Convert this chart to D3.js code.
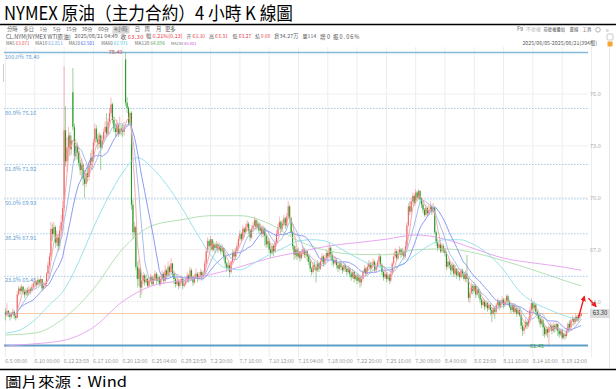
<!DOCTYPE html>
<html><head><meta charset="utf-8">
<script src="https://cdn.jsdelivr.net/npm/d3@7"></script>
<style>body{margin:0;background:#fff}svg{display:block}text{font-family:"Noto Sans CJK TC","Noto Sans",sans-serif}</style>
</head><body><svg id="c" width="616" height="389"></svg>
<script>
// ---------- DATA ----------
const closes = [
63.20,63.45,63.30,63.10,63.25,63.40,63.15,63.05,64.40,64.75,
64.60,64.85,64.55,64.40,64.65,64.50,64.70,64.60,64.85,65.05,
65.10,64.95,65.25,65.05,65.30,64.75,64.90,65.00,65.60,66.10,
66.60,68.20,67.90,68.30,67.40,67.70,67.20,68.10,68.60,69.40,
73.90,72.10,72.90,73.60,72.80,73.30,74.10,72.40,73.00,72.60,
72.00,71.60,71.90,71.10,70.80,71.40,71.20,71.90,72.30,72.10,
73.20,74.00,73.40,73.10,73.60,72.90,73.30,73.80,74.10,73.70,
74.40,74.90,75.40,74.50,74.00,73.80,74.20,73.70,74.00,73.90,
73.80,74.10,75.50,75.20,74.30,74.90,69.60,68.00,68.30,66.00,65.30,65.90,64.80,65.20,
65.5,65.1,65.3,64.9,65.2,65.4,65.0,65.3,65.6,65.2,
65.4,65.0,65.3,65.6,65.2,65.8,65.5,66.0,65.7,66.2,
65.6,65.3,65.0,65.2,64.9,65.1,65.3,64.9,65.0,65.2,
65.5,65.3,65.8,65.4,65.1,65.4,65.6,65.3,65.5,65.7,
65.4,65.6,66.2,66.9,67.5,67.2,67.6,67.0,67.3,67.1,
67.3,67.0,67.2,66.9,67.1,66.6,66.2,65.9,66.1,65.7,
66.3,66.8,66.6,66.9,67.2,67.6,67.9,67.6,68.2,68.0,
68.3,68.5,68.1,67.7,68.2,68.4,68.7,68.3,68.5,68.1,
68.3,67.9,68.2,67.8,67.3,67.5,67.0,66.8,67.2,66.9,
67.4,67.9,68.3,68.6,68.2,68.5,68.8,68.4,68.9,69.5,
68.8,68.0,67.2,66.7,67.0,66.6,66.9,66.5,66.8,67.0,
66.7,66.9,66.6,66.3,65.9,65.7,66.1,66.0,65.8,66.2,
65.9,66.3,66.6,66.2,66.5,66.8,66.6,67.1,66.7,66.4,
66.2,66.4,66.1,65.9,66.2,66.0,65.8,66.1,65.9,65.7,
65.9,65.6,65.4,65.7,65.3,65.5,65.2,65.4,65.1,65.3,
65.7,65.9,65.6,66.0,66.2,65.9,66.1,66.3,65.8,66.0,
66.3,66.6,66.1,65.7,65.4,65.6,65.3,65.5,65.2,65.6,
66.2,66.6,66.9,66.5,66.8,67.0,66.7,66.9,66.6,67.2,
68.4,69.5,69.2,69.8,70.1,69.7,70.3,70.0,70.4,69.9,
69.6,69.3,69.0,69.4,69.1,69.3,69.5,69.2,69.4,68.0,
67.4,67.1,67.3,66.9,67.2,67.0,66.8,66.0,66.3,66.1,
65.8,66.1,65.6,65.9,65.5,65.7,65.4,65.8,65.6,65.3,
65.6,65.3,64.2,64.5,64.9,64.6,64.9,64.4,64.7,64.5,
64.1,63.8,64.0,63.7,63.9,63.6,63.8,63.5,63.3,63.6,
63.4,63.8,64.0,63.7,63.9,64.1,63.8,64.0,64.3,64.0,
63.7,63.5,63.8,63.4,63.6,63.3,63.5,63.2,62.6,62.3,
62.5,62.8,62.6,62.9,63.5,63.9,63.6,63.8,63.4,63.2,
63.0,62.7,62.9,62.5,62.1,62.4,62.2,62.5,62.6,62.3,
62.6,62.4,62.7,62.3,62.1,62.3,61.9,62.1,62.0,62.3,
62.7,62.5,62.9,63.0,62.8,63.1,62.9,63.2,63.17,63.30];
const highs = [
63.6,63.9,63.5,63.4,63.4,63.6,63.5,63.3,64.6,64.9,
64.9,65.0,64.9,64.7,64.8,64.8,64.9,64.8,65.0,65.2,
65.3,65.2,65.4,65.3,65.5,65.3,65.1,65.2,65.7,66.3,
66.8,68.6,68.5,68.6,68.4,68.1,67.9,68.4,69.0,69.8,
77.6,75.3,73.5,74.1,73.8,73.6,77.5,74.3,73.4,73.2,
72.7,72.2,72.3,72.0,71.5,71.6,71.8,72.1,72.6,72.8,
73.4,74.3,74.2,73.7,73.8,73.7,73.6,74.0,74.4,74.9,
74.6,75.2,75.8,75.5,74.7,74.3,74.5,74.3,74.7,74.2,
74.3,74.4,78.4,75.8,75.3,75.0,75.0,69.9,68.6,68.4,66.3,66.4,66.0,65.5,
65.7,65.6,65.6,65.4,65.4,65.6,65.5,65.5,65.8,65.7,
65.6,65.5,65.5,65.8,65.7,66.1,65.9,66.3,66.1,66.5,
66.2,65.7,65.4,65.4,65.3,65.3,65.5,65.4,65.2,65.4,
65.7,65.6,66.0,65.9,65.5,65.6,65.9,65.7,65.7,65.9,
65.8,65.8,66.4,67.1,67.7,67.6,67.8,67.6,67.5,67.4,
67.5,67.4,67.4,67.3,67.3,67.1,66.7,66.3,66.3,66.2,
66.4,67.0,67.0,67.1,67.4,67.8,68.1,68.0,68.4,68.3,
68.5,68.7,68.6,68.2,68.4,68.6,68.9,68.8,68.7,68.6,
68.5,68.4,68.4,68.3,67.9,67.7,67.6,67.2,67.4,67.3,
67.6,68.1,68.5,68.9,68.7,68.7,69.0,68.9,69.1,69.8,
69.6,68.9,68.1,67.3,67.2,67.1,67.1,66.9,67.0,67.2,
67.1,67.0,66.9,66.7,66.4,66.0,66.3,66.3,66.2,66.4,
66.3,66.5,66.8,66.7,66.7,67.0,66.9,67.4,67.2,66.9,
66.5,66.6,66.5,66.2,66.3,66.3,66.1,66.3,66.2,66.0,
66.1,66.0,65.7,65.9,65.8,65.6,65.6,65.6,65.5,65.5,
65.8,66.1,66.0,66.2,66.4,66.3,66.3,66.5,66.4,66.2,
66.4,66.8,66.7,66.2,65.8,65.8,65.7,65.7,65.6,65.8,
66.3,66.8,67.1,67.0,67.0,67.2,67.1,67.1,67.0,67.5,
68.6,69.7,69.8,70.0,70.3,70.2,70.5,70.4,70.5,70.4,
70.0,69.8,69.4,69.6,69.5,69.6,69.8,69.6,69.7,69.5,
68.1,67.6,67.5,67.4,67.4,67.3,67.1,66.9,66.5,66.4,
66.2,66.3,66.2,66.1,65.9,65.9,65.7,65.9,65.9,65.7,
65.8,66.7,65.4,64.8,65.1,65.0,65.1,65.0,64.9,64.8,
64.5,64.2,64.2,64.1,64.1,64.0,64.0,63.9,63.7,63.8,
63.7,63.9,64.2,64.1,64.1,64.3,64.2,64.2,64.4,64.4,
64.1,63.9,63.9,63.9,63.8,63.7,63.7,63.6,63.3,62.8,
62.7,63.0,62.9,63.1,63.7,64.2,64.0,64.0,63.9,63.5,
63.3,63.1,63.0,63.0,62.6,62.6,62.5,62.7,62.8,62.7,
62.8,62.7,62.8,62.7,62.4,62.4,62.4,62.2,62.2,62.5,
62.8,62.9,63.0,63.2,63.1,63.3,63.2,63.3,63.31,63.31];
const lows = [
62.9,63.1,63.1,62.9,63.0,63.2,63.0,62.9,63.0,64.3,
64.4,64.5,64.4,64.2,64.3,64.3,64.4,64.4,64.5,64.7,
64.8,64.8,64.9,64.9,64.9,64.6,64.7,64.8,64.9,65.5,
65.9,66.4,67.5,67.7,67.1,67.2,66.9,67.0,67.9,68.4,
69.2,71.8,71.5,72.5,72.4,72.5,73.9,72.1,72.2,72.2,
71.8,71.3,71.2,70.7,70.0,70.6,70.9,71.0,71.7,71.6,
72.1,73.0,73.2,72.8,72.9,71.6,72.8,73.2,73.5,73.5,
73.6,74.2,74.7,74.3,73.8,73.5,73.6,73.5,73.6,73.6,
73.5,73.6,75.3,74.9,74.2,74.2,69.3,67.6,67.7,65.8,64.8,64.9,64.2,64.4,
65.0,64.9,65.0,64.8,64.8,65.1,64.9,64.9,65.2,65.0,
65.1,64.9,64.9,65.2,65.0,65.1,65.3,65.4,65.5,65.6,
65.4,65.0,64.8,64.9,64.7,64.8,65.0,64.7,64.8,64.9,
65.1,65.1,65.2,65.2,64.9,65.0,65.3,65.1,65.2,65.3,
65.2,65.3,65.5,66.1,66.8,67.0,67.1,66.9,66.9,66.8,
67.0,66.8,66.9,66.7,66.8,66.4,66.0,65.7,65.8,65.4,
65.6,66.2,66.4,66.5,66.8,67.1,67.5,67.4,67.5,67.7,
67.9,68.1,67.9,67.5,67.6,68.0,68.3,68.1,68.2,67.9,
67.9,67.7,67.7,67.2,67.1,67.1,66.8,66.5,66.7,66.6,
66.8,67.3,67.8,68.2,68.0,68.1,68.4,68.2,68.3,68.8,
68.6,67.8,67.0,66.4,66.5,66.4,66.5,66.3,66.4,66.6,
66.5,66.5,66.3,66.1,65.7,65.5,65.6,65.8,65.1,65.7,
65.7,65.8,66.2,66.0,66.1,66.4,66.4,66.5,66.5,66.1,
66.0,66.1,65.9,65.7,65.8,65.8,65.6,65.7,65.7,65.5,
65.6,65.4,65.2,65.3,65.1,65.2,65.0,65.1,64.8,64.9,
65.2,65.6,65.5,65.6,65.9,65.7,65.8,66.0,65.7,65.7,
65.9,66.2,66.0,65.5,65.2,65.3,65.1,65.2,65.0,65.1,
65.5,66.1,66.5,66.3,66.4,66.7,66.5,66.6,66.4,66.5,
67.1,68.3,69.0,69.1,69.6,69.5,69.6,69.8,69.9,69.7,
69.4,69.1,68.9,68.9,68.9,69.0,69.2,69.0,69.1,67.9,
67.2,66.9,67.0,66.8,66.8,66.8,66.6,65.8,65.9,65.9,
65.5,65.7,65.4,65.5,65.3,65.4,65.2,65.3,65.4,65.2,
65.1,65.1,64.0,63.9,64.4,64.4,64.5,64.2,64.3,64.2,
63.9,63.6,63.7,63.5,63.6,63.4,63.5,63.2,62.8,63.2,
63.0,63.3,63.7,63.5,63.6,63.8,63.6,63.7,63.9,63.8,
63.6,63.3,63.4,63.3,63.3,63.1,63.2,63.1,62.4,62.0,
62.1,62.4,62.4,62.5,62.8,63.4,63.4,63.5,63.2,63.0,
62.8,62.5,62.6,62.0,61.9,62.0,61.9,61.45,62.3,62.1,
62.2,62.2,62.3,62.0,61.9,62.0,61.8,61.8,61.8,61.9,
62.2,62.4,62.4,62.8,62.6,62.7,62.8,62.8,63.1,63.27];
const firstOpen = 63.35;
const gapBars = [46, 82];          // weekend-gap bars whose open differs from the prior close
const gapOpens = [76.1, 78.0];

// long moving averages (bar index, value)
const ma60Bars = [0,10,20,30,40,50,60,70,80,90,100,110,120,130,140,150,160,170,180,190,200,210,220,230,240,250,260,270,280,290,300,310,320,330,340,350,360,370,380,390,393];
const ma60Vals = [62.17,62.35,62.93,63.8,64.67,66.29,68.26,70.0,71.45,72.32,71.74,70.75,69.48,68.03,66.7,65.94,65.83,66.23,66.7,67.1,67.5,67.57,67.45,66.99,66.52,66.12,65.94,66.12,66.7,67.28,67.57,67.57,67.28,66.7,65.83,64.67,63.97,63.57,63.22,62.99,62.97];
const maLongBars = [0,20,40,60,80,100,120,140,160,180,200,220,240,260,280,300,320,340,360,380,393];
const ma120Vals = [62.06,62.17,63.04,64.72,67.04,68.38,68.72,68.96,68.96,68.5,67.5,66.93,66.72,66.7,66.99,67.04,66.81,66.35,65.83,65.25,64.9];
const ma250Vals = [61.42,61.55,61.75,62.5,64.0,64.9,65.2,65.55,66.0,66.5,66.85,67.2,67.4,67.6,67.85,67.6,67.05,66.5,66.23,66.0,65.8];

const tickLabels = ["6.5 08:00","6.10 00:00","6.12 23:59","6.17 16:00","6.20 12:00","6.25 04:00","6.29 23:59","7.2 20:00","7.7 16:00","7.10 12:00","7.15 04:00","7.18 00:00","7.22 20:00","7.25 16:00","7.30 08:00","8.4 00:00","8.6 23:59","8.11 16:00","8.14 16:00","8.19 12:00"];
const tickBars = tickLabels.map((d,k)=>k*20);
const priceTicks = [76,73,70,67,64];
const fibPct = ["100.0%","80.9%","61.8%","50.0%","38.2%","23.6%","0.0%"];
const fibVals = [78.40,75.16,71.92,69.93,67.91,65.45,61.45];
const peakBar = 82, peakVal = 78.40, lowBar = 371, lowVal = 61.45;
const lastPrice = 63.30;
const maNames = ["MA5","MA10","MA20","MA60","MA120","MA250"];
const maLegend = ["63.071","62.811","62.501","62.971","64.896","65.801"];
const arrowA = [[391.1,63.03],[395.1,64.28]];
const arrowB = [[397.9,64.19],[403.1,63.71]];

// ---------- CHART ----------
const svg = d3.select("#c");
const W = 616;
const x = d3.scaleLinear().domain([0,393]).range([5.5,581.2]);
const y = d3.scaleLinear().domain([61.45,78.40]).range([345.5,52.5]);
const RED="#e8383d";

// coloured text pieces laid out left to right; font shrinks so the natural width fits the room
function seq(x0, yp, parts, size, width, anchor){
  const gap = 1.0;
  const els = parts.map(p=>svg.append("text").attr("y",yp).attr("font-size",size)
      .attr("dominant-baseline","middle").attr("fill",p[1]).text(p[0]));
  let nat = els.map(e=>e.node().getComputedTextLength());
  let tot = d3.sum(nat);
  const room = width ? width - gap*(parts.length-1) : tot;
  if(tot > room){
    const fs = size*room/tot*0.98;
    els.forEach(e=>e.attr("font-size",fs));
    nat = els.map(e=>e.node().getComputedTextLength());
    tot = d3.sum(nat);
  }
  const extra = Math.max(0, room - tot);
  const full = tot + extra + gap*(parts.length-1);
  let cx = x0;
  if(anchor==="end") cx = x0 - full;
  if(anchor==="middle") cx = x0 - full/2;
  els.forEach((e,k)=>{
    e.attr("x",cx);
    const w = nat[k] + extra*nat[k]/tot;
    if(extra>0.3) e.attr("textLength",w).attr("lengthAdjust","spacing");
    cx += w + gap;
  });
}

// title
svg.append("text").attr("x",4).attr("y",19.5).attr("font-size",18.5).attr("fill","#000")
  .attr("textLength",289).attr("lengthAdjust","spacingAndGlyphs")
  .text("NYMEX 原油（主力合約）4 小時 K 線圖");
svg.append("line").attr("x1",0).attr("x2",W).attr("y1",24.5).attr("y2",24.5).attr("stroke","#000").attr("stroke-width",1.6);

// toolbar
const ty = 29.8;
svg.append("rect").attr("x",112.5).attr("y",26.2).attr("width",17).attr("height",7.4).attr("fill","#d8d8d8");
[["分時",7,11],["多日",23.6,10.5],["1分",39.5,8],["5分",53,8],["15分",66,11],["30分",81.7,11],["60分",98.2,11],["4小時",114,14],["日",134.7,5.5],["周",144.5,5.5],["月",156,5.5],["更多",165,11]]
 .forEach(d=>seq(d[1],ty,[[d[0],"#666"]],5.6,d[2]));
seq(517,ty,[["F9","#666"]],5.6,6.5);
seq(526,ty,[["不復權","#bbb"]],5.6,15);
seq(543.5,ty,[["前復權疊加","#555"]],5.6,21.5);
seq(569.5,ty,[["畫線","#555"]],5.6,9);
seq(582.5,ty,[["工具","#555"]],5.6,9);
svg.append("circle").attr("cx",598).attr("cy",ty).attr("r",2.3).attr("fill","none").attr("stroke","#aaa").attr("stroke-width",0.9);
seq(605.5,ty,[["»","#aaa"]],7,null);

// info row
const iy = 37;
seq(5.9,iy,[["CL.NYM[NYMEX WTI原油]","#555"]],5.6,64.8);
seq(74.6,iy,[["2025/08/21 04:49","#555"]],5.6,43.2);
seq(120.6,iy,[["收","#555"],["63.30",RED]],5.6,22.8);
seq(146.1,iy,[["幅","#555"],["0.21%(0.13)",RED]],5.6,36.5);
seq(186.6,iy,[["开","#555"],["63.30",RED]],5.6,18.4);
seq(209,iy,[["高","#555"],["63.31",RED]],5.6,18.8);
seq(232.5,iy,[["低","#555"],["63.27",RED]],5.6,18.9);
seq(255.3,iy,[["結","#555"],["0.00",RED]],5.6,14.9);
seq(274.2,iy,[["倉34.27万","#555"]],5.6,24.3);
seq(302.4,iy,[["量114","#555"]],5.6,13.8);
seq(320.1,iy,[["增0","#555"]],5.6,9.9);
seq(333,iy,[["振0.06%","#555"]],5.6,26.4);
svg.append("rect").attr("x",607).attr("y",34).attr("width",6).attr("height",6).attr("rx",1).attr("fill","none").attr("stroke","#bbb").attr("stroke-width",0.8);

// MA legend row
const my = 44;
const maTextCol = ["#e8484f","#6d9de0","#3251e6","#33c2d6","#4aa64a","#d23fd8"];
const maLineCol = ["#f2a2aa","#9cb6e2","#7f8ff2","#8edfe9","#abdcab","#e59df1"];
const maLegX = [[5.9,23.6],[35.3,27.5],[68.7,25.6],[101.3,26.4],[134.7,30.3],[170.9,25.5]];
maNames.forEach((m,k)=>seq(maLegX[k][0],my,[[m,"#666"],[maLegend[k],maTextCol[k]]],5.6,maLegX[k][1]));
seq(522.4,my,[["2025/06/05-2025/08/21(394根)","#555"]],5.6,74.6);
svg.append("rect").attr("x",607.5).attr("y",41.5).attr("width",5).attr("height",5).attr("fill","#f3a632");

// grid
const grid = svg.append("g");
tickBars.concat([400]).forEach(b=>grid.append("line").attr("x1",x(b)).attr("x2",x(b)).attr("y1",47).attr("y2",357).attr("stroke","#ededed").attr("stroke-width",1));
priceTicks.forEach(v=>grid.append("line").attr("x1",4).attr("x2",588).attr("y1",y(v)).attr("y2",y(v)).attr("stroke","#f0f0f0").attr("stroke-width",1));
svg.append("line").attr("x1",609.5).attr("x2",609.5).attr("y1",47).attr("y2",368).attr("stroke","#e4e4e4");
svg.append("line").attr("x1",3.5).attr("x2",3.5).attr("y1",64).attr("y2",82).attr("stroke","#d0d0d0");

// fibonacci lines
fibVals.forEach((v,k)=>{
  const solid = (k===0||k===fibVals.length-1);
  svg.append("line").attr("x1",4).attr("x2",588).attr("y1",y(v)).attr("y2",y(v))
    .attr("stroke", solid ? (k===0?"#86b8da":"#5f9dc6") : "#a7cdec")
    .attr("stroke-width", solid ? (k===0?1.4:1.8) : 1)
    .attr("stroke-dasharray", solid ? null : "1.6,1.4");
  if(k < fibVals.length-1)
    seq(5,y(v)+4.5,[[fibPct[k]+"  "+v.toFixed(2),"#5a9bd0"]],5.6,null);
});
// last-price line
svg.append("line").attr("x1",4).attr("x2",588).attr("y1",y(lastPrice)).attr("y2",y(lastPrice)).attr("stroke","#f8c9a6").attr("stroke-width",1.1);

// candles
const opens = closes.map((c,i)=> i===0 ? firstOpen : closes[i-1]);
gapBars.forEach((b,k)=>opens[b]=gapOpens[k]);
const bars = closes.map((c,i)=>({i,o:opens[i],c,h:Math.max(highs[i],opens[i],c),l:Math.min(lows[i],opens[i],c)}));
const UP="#f06262", DN="#1f9b1f";
const cg = svg.append("g");
cg.selectAll("line").data(bars).join("line")
  .attr("x1",d=>x(d.i)).attr("x2",d=>x(d.i)).attr("y1",d=>y(d.h)).attr("y2",d=>y(d.l))
  .attr("stroke",d=>d.c>=d.o?UP:DN).attr("stroke-width",0.6).attr("opacity",0.75);
cg.selectAll("rect").data(bars).join("rect")
  .attr("x",d=>x(d.i)-0.55).attr("width",1.1)
  .attr("y",d=>y(Math.max(d.o,d.c))).attr("height",d=>Math.max(0.6,Math.abs(y(d.o)-y(d.c))))
  .attr("fill",d=>d.c>=d.o?UP:DN);

// moving averages
function sma(n){return closes.map((c,i)=>[i,d3.mean(closes.slice(Math.max(0,i-n+1),i+1))]);}
const line = d3.line().x(d=>x(d[0])).y(d=>y(d[1]));
const smooth = d3.line().x(d=>x(d[0])).y(d=>y(d[1])).curve(d3.curveMonotoneX);
const maSeries = [
  [sma(5),line],[sma(10),line],[sma(20),line],
  [ma60Bars.map((b,k)=>[b,ma60Vals[k]]),smooth],
  [maLongBars.map((b,k)=>[b,ma120Vals[k]]),smooth],
  [maLongBars.map((b,k)=>[b,ma250Vals[k]]),smooth]];
maSeries.slice().reverse().forEach((s,rk)=>{
  const k = maSeries.length-1-rk;
  svg.append("path").attr("d",s[1](s[0])).attr("fill","none").attr("stroke",maLineCol[k]).attr("stroke-width",0.9);
});

// high / low marks
seq(x(peakBar)-3,y(peakVal),[[peakVal.toFixed(2),"#c0504d"]],5.6,null,"end");
seq(x(lowBar)-5,y(lowVal)+0.5,[[lowVal.toFixed(2),"#3c9c3c"]],5.6,null,"end");

// right axis
const ay = svg.append("g").attr("transform","translate(589,0)")
  .call(d3.axisRight(y).tickValues(priceTicks).tickFormat(d3.format(".1f")).tickSize(0).tickPadding(1));
ay.select(".domain").remove();
ay.selectAll("text").attr("fill","#aaa").attr("font-size",5.6).attr("font-family","Noto Sans");

// bottom axis
const ax = svg.append("g").attr("transform","translate(0,359.5)")
  .call(d3.axisBottom(x).tickValues(tickBars).tickFormat((d,k)=>tickLabels[k]).tickSize(0).tickPadding(0));
ax.select(".domain").remove();
ax.selectAll("text").attr("fill","#999").attr("font-size",5.4).attr("text-anchor","start").attr("font-family","Noto Sans").attr("dx",-0.8);

// last price box
svg.append("rect").attr("x",590).attr("y",y(lastPrice)-4.5).attr("width",20).attr("height",9).attr("fill","#dcdcdc");
seq(600,y(lastPrice)+0.3,[[lastPrice.toFixed(2),"#333"]],5.8,null,"middle");

// arrows
const defs = svg.append("defs");
defs.append("marker").attr("id","ah").attr("viewBox","0 0 10 10").attr("refX",8).attr("refY",5)
  .attr("markerWidth",4).attr("markerHeight",4).attr("orient","auto")
  .append("path").attr("d","M0,0L10,5L0,10Z").attr("fill","#f0191b");
[arrowA,arrowB].forEach(a=>svg.append("line").attr("x1",x(a[0][0])).attr("y1",y(a[0][1])).attr("x2",x(a[1][0])).attr("y2",y(a[1][1]))
  .attr("stroke","#f0191b").attr("stroke-width",1.4).attr("marker-end","url(#ah)"));

// footer
svg.append("line").attr("x1",0).attr("x2",W).attr("y1",369.5).attr("y2",369.5).attr("stroke","#000").attr("stroke-width",1.6);
svg.append("text").attr("x",5).attr("y",386.5).attr("font-size",14).attr("fill","#000")
  .attr("textLength",122).attr("lengthAdjust","spacingAndGlyphs").text("圖片來源：Wind");
</script></body></html>
